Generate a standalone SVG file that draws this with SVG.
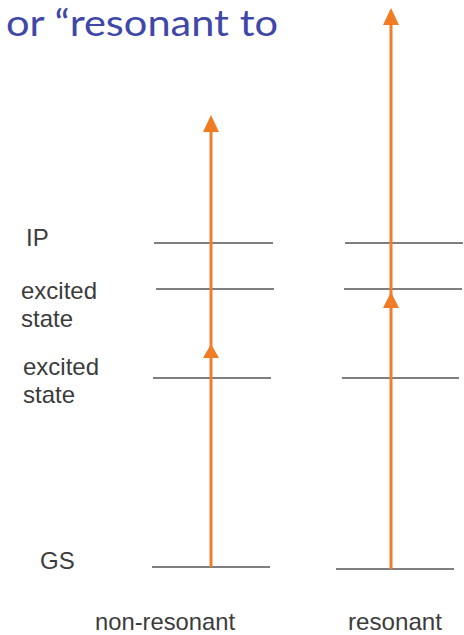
<svg xmlns="http://www.w3.org/2000/svg" width="464" height="635" viewBox="0 0 464 635">
  <defs>
    <style>
      .title { font-family: Lato, "Open Sans", sans-serif; font-size: 37px; fill: #3f48a8; }
      .lbl { font-family: "Liberation Sans", Arial, sans-serif; font-size: 24px; fill: #3c3c3c; }
      .level { stroke: #7f7f7f; stroke-width: 2; fill: none; }
      .beam { stroke: #ef7f2d; stroke-width: 3; fill: none; }
      .head { fill: #f07b22; }
    </style>
  </defs>
  <rect width="464" height="635" fill="#ffffff"/>

  <text class="title" x="6" y="36" textLength="272" lengthAdjust="spacingAndGlyphs">or “resonant to</text>

  <!-- energy level labels -->
  <g id="labels">
    <text class="lbl" x="26" y="246">IP</text>
    <text class="lbl" x="21" y="299">excited</text>
    <text class="lbl" x="21" y="327">state</text>
    <text class="lbl" x="23" y="375">excited</text>
    <text class="lbl" x="23" y="403">state</text>
    <text class="lbl" x="40" y="569">GS</text>
    <text class="lbl" x="95" y="630" textLength="140" lengthAdjust="spacingAndGlyphs">non-resonant</text>
    <text class="lbl" x="348" y="630" textLength="94" lengthAdjust="spacingAndGlyphs">resonant</text>
  </g>

  <!-- non-resonant scheme -->
  <g id="non-resonant-levels">
    <line class="level" x1="154" y1="243" x2="273" y2="243"/>
    <line class="level" x1="156" y1="289" x2="274" y2="289"/>
    <line class="level" x1="153" y1="378" x2="271" y2="378"/>
    <line class="level" x1="152" y1="567" x2="270" y2="567"/>
  </g>

  <!-- resonant scheme -->
  <g id="resonant-levels">
    <line class="level" x1="345" y1="243" x2="463" y2="243"/>
    <line class="level" x1="344" y1="289" x2="462" y2="289"/>
    <line class="level" x1="342" y1="378" x2="459" y2="378"/>
    <line class="level" x1="336" y1="569" x2="454" y2="569"/>
  </g>

  <!-- photon arrows -->
  <g id="connectors">
    <line class="beam" x1="211" y1="567" x2="211" y2="356"/>
    <polygon class="head" points="211,344 203,358 219,358"/>
    <line class="beam" x1="211" y1="358" x2="211" y2="130"/>
    <polygon class="head" points="211,115 203,132 219,132"/>

    <line class="beam" x1="391" y1="569" x2="391" y2="306"/>
    <polygon class="head" points="391,292 383,308 399,308"/>
    <line class="beam" x1="391" y1="308" x2="391" y2="22"/>
    <polygon class="head" points="391,8 383,25 399,25"/>
  </g>
</svg>
